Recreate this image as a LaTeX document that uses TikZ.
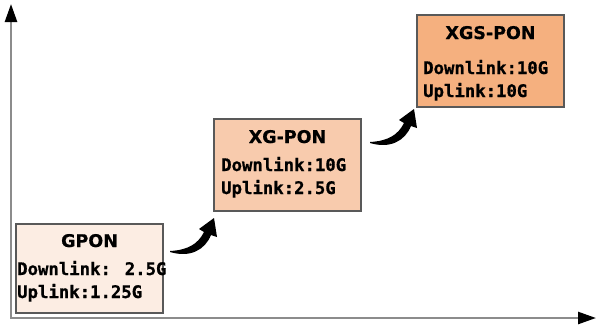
\documentclass[tikz,border=0pt]{standalone}
\usepackage{fontspec}
\setmainfont{DejaVu Sans}[BoldFeatures={FakeBold=0.5}]
\newfontfamily\monofnt{DejaVu Sans Mono}[BoldFeatures={FakeBold=0.8}]
\usetikzlibrary{arrows.meta}
\definecolor{boxA}{HTML}{FCEDE3}
\definecolor{boxB}{HTML}{F8CBAD}
\definecolor{boxC}{HTML}{F5B07F}
\definecolor{edgegray}{HTML}{595959}
\definecolor{axisgray}{HTML}{8C8C8C}
\tikzset{
  pbox/.style={draw=edgegray, line width=1.5pt, minimum width=147pt, inner sep=0pt},
  ttl/.style={anchor=base, inner sep=0pt, font=\fontsize{17.5}{20}\selectfont\bfseries},
  bodytxt/.style={anchor=base west, inner sep=0pt, font=\monofnt\fontsize{17.3}{20}\selectfont\bfseries},
  axisline/.style={draw=axisgray, line width=2.5pt,
    {Triangle[length=18pt,width=12pt,color=black]}-{Triangle[length=18pt,width=12pt,color=black]}},
  curvearrow/.pic={
    \fill[black] (0,0) .. controls (20,6) and (35,-2) .. (41,-17) -- (47,-15) -- (44,-34)
      -- (29,-23) -- (34,-20) .. controls (28,-8) and (18,-2) .. (0,-1) -- cycle;
  }
}
\begin{document}
\begin{tikzpicture}[x=1pt,y=-1pt]
\fill[white] (0,0) rectangle (600,330);
\useasboundingbox (0,0) rectangle (600,330);
% axes
\coordinate (ytop) at (11,4);
\coordinate (origin) at (11,318);
\coordinate (xend) at (596,318);
\draw[axisline] (ytop) -- (origin) -- (xend);
% boxes
\node[pbox, fill=boxA, minimum height=89pt] (gpon) at (89.5,268.5) {};
\node[pbox, fill=boxB, minimum height=92pt] (xg) at (287.5,165) {};
\node[pbox, fill=boxC, minimum height=92pt] (xgs) at (490.5,61) {};
% texts
\node[ttl] (t1) at (89.5,247) {GPON};
\node[bodytxt] (d1) at (17,275) {Downlink: 2.5G};
\node[bodytxt] (u1) at (17,298) {Uplink:1.25G};
\node[ttl] (t2) at (287.5,143) {XG-PON};
\node[bodytxt] (d2) at (221,171) {Downlink:10G};
\node[bodytxt] (u2) at (221,194) {Uplink:2.5G};
\node[ttl] (t3) at (490.5,39) {XGS-PON};
\node[bodytxt] (d3) at (423,74) {Downlink:10G};
\node[bodytxt] (u3) at (423,97) {Uplink:10G};
% step arrows
\coordinate (a1) at (170,252);
\coordinate (a2) at (370,143);
\pic at (a1) {curvearrow};
\pic at (a2) {curvearrow};
\end{tikzpicture}
\end{document}
